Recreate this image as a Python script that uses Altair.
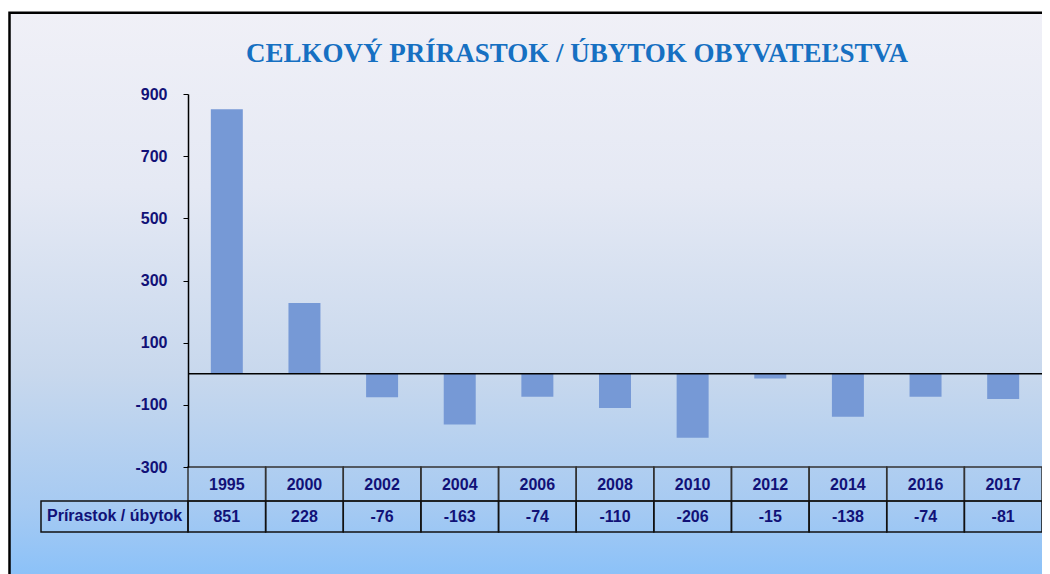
import altair as alt
import pandas as pd

years = ["1995", "2000", "2002", "2004", "2006", "2008", "2010", "2012", "2014", "2016", "2017"]
values = [851, 228, -76, -163, -74, -110, -206, -15, -138, -74, -81]
y_ticks = [-300, -100, 100, 300, 500, 700, 900]
title_text = "CELKOVÝ PRÍRASTOK / ÚBYTOK OBYVATEĽSTVA"
row_label = "Prírastok / úbytok"

df = pd.DataFrame({"year": years, "value": values})
df["label"] = [str(v) for v in values]
one = pd.DataFrame({"k": [0]})

NAVY = "#111177"
FONT = "Liberation Sans"
FS = 16

xs = alt.Scale(domain=years, paddingInner=0, paddingOuter=0)
X = alt.X("year:N", scale=xs, axis=None, sort=years)

grad = alt.Gradient(
    gradient="linear", x1=0, x2=0, y1=0, y2=1,
    stops=[
        alt.GradientStop(offset=0, color="#f0f0f7"),
        alt.GradientStop(offset=0.3, color="#e5e9f4"),
        alt.GradientStop(offset=0.62, color="#c8d8ed"),
        alt.GradientStop(offset=0.85, color="#a6caf2"),
        alt.GradientStop(offset=1, color="#84bffa"),
    ],
)

bg = alt.Chart(one).mark_rect(fill=grad, stroke="black", strokeWidth=2.5).encode(
    x=alt.value(-178.5), x2=alt.value(900), y=alt.value(-81.3), y2=alt.value(500)
)

title = alt.Chart(one).mark_text(
    text=title_text, font="Liberation Serif", fontWeight="bold", fontSize=27,
    color="#1670c2", align="center", baseline="alphabetic"
).encode(x=alt.value(389), y=alt.value(-32))

bars = alt.Chart(df).mark_bar(color="#7699d6", width=alt.RelativeBandSize(0.412)).encode(
    x=X,
    y=alt.Y(
        "value:Q",
        scale=alt.Scale(domain=[-300, 900], nice=False, zero=False),
        axis=alt.Axis(
            values=y_ticks, title=None, grid=False, domainColor="black", domainWidth=1.5,
            tickColor="black", tickSize=5, tickWidth=1, labelFont=FONT, labelFontWeight="bold",
            labelFontSize=FS, labelColor=NAVY, labelPadding=16, zindex=1,
            labelExpr="'' + datum.value",
        ),
    ),
)

zero = alt.Chart(one).mark_rule(color="black", strokeWidth=1.5).encode(y=alt.datum(0))

hdr_cells = alt.Chart(df).mark_rect(fillOpacity=0, stroke="#333333", strokeWidth=1.5).encode(
    x=X, y=alt.value(373), y2=alt.value(407)
)
val_cells = alt.Chart(df).mark_rect(fillOpacity=0, stroke="#111111", strokeWidth=1.5).encode(
    x=X, y=alt.value(407), y2=alt.value(438)
)
lbl_cell = alt.Chart(one).mark_rect(fillOpacity=0, stroke="#111111", strokeWidth=1.5).encode(
    x=alt.value(-147), x2=alt.value(0), y=alt.value(407), y2=alt.value(438)
)

yr_text = alt.Chart(df).mark_text(
    font=FONT, fontWeight="bold", fontSize=FS, color=NAVY, baseline="middle"
).encode(x=X, y=alt.value(390.5), text="year:N")
val_text = alt.Chart(df).mark_text(
    font=FONT, fontWeight="bold", fontSize=FS, color=NAVY, baseline="middle"
).encode(x=X, y=alt.value(423), text="label:N")
lbl_text = alt.Chart(one).mark_text(
    text=row_label, font=FONT, fontWeight="bold", fontSize=FS, color=NAVY,
    align="left", baseline="middle"
).encode(x=alt.value(-141), y=alt.value(422))

chart = alt.layer(
    bg, title, bars, zero, hdr_cells, val_cells, lbl_cell, yr_text, val_text, lbl_text
).properties(
    width=854, height=373,
    padding={"left": 180, "top": 86, "right": 0, "bottom": 107},
    autosize=alt.AutoSizeParams(type="none"),
    background="white",
).configure_view(stroke=None)

chart.save("out.html", embed_options={"renderer": "svg", "actions": False})
